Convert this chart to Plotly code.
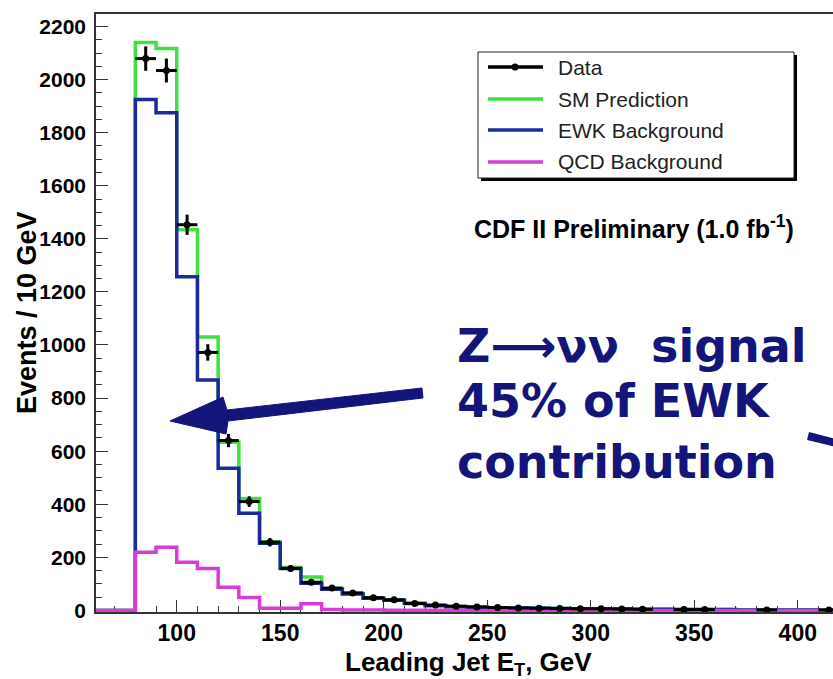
import plotly.graph_objects as go

# ── data ─────────────────────────────────────────────────────────────────────
bin_lo = list(range(60, 420, 10))          # lower bin edges, 10 GeV bins
bin_hi_last = 420
ewk_bkg = [0, 0, 1925, 1875, 1257, 868, 536, 366,
           253, 158, 102, 80, 62, 46, 38, 26,
           18, 14, 12, 10, 9, 8, 7, 6,
           5, 5, 4, 4, 3, 3, 3, 2,
           2, 2, 2, 1]
qcd_bkg = [0, 0, 219, 238, 181, 158, 87, 49,
           8, 8, 25, 3, 2, 2, 1, 1,
           1, 1, 1, 1, 1, 0, 0, 0,
           0, 0, 0, 0, 0, 0, 0, 0,
           0, 0, 0, 0]
sm_pred = [0, 0, 2140, 2117, 1434, 1030, 634, 422,
           259, 162, 126, 83, 64, 48, 39, 27,
           19, 15, 13, 10, 9, 8, 7, 6,
           5, 5, 4, 4, 3, 3, 3, 2,
           2, 2, 2, 1]
data_x = list(range(85, 420, 10))
data_y = [2079, 2034, 1453, 972, 640, 410, 257, 158,
          106, 84, 66, 48, 40, 26, 20, 16,
          13, 11, 9, 8, 7, 6, 6, 5,
          4, None, 3, 3, None, None, 2, None,
          None, 2]
data_err = [46, 45, 38, 31, 25, 20, 16, 13,
            10, 9, 8, 7, 6, 5, 4, 4,
            4, 3, 3, 3, 3, 2, 2, 2,
            2, 0, 2, 2, 0, 0, 1, 0,
            0, 1]
series_names = ["Data", "SM Prediction", "EWK Background", "QCD Background"]
x_ticks = [100, 150, 200, 250, 300, 350, 400]
y_ticks = list(range(0, 2201, 200))

GREEN, BLUE, MAGENTA, NAVY = "#3fe03f", "#1c2a9c", "#d63cd6", "#14157a"
SANS = "Liberation Sans, Arial, sans-serif"

# plot frame in pixels
W, H = 833, 679
L, T, B = 96, 14, 67
PW, PH = W - L, H - T - B


def px(x):
    return (x - L) / PW


def py(y):
    return (H - B - y) / PH


def steps(vals):
    return bin_lo + [bin_hi_last], vals + [vals[-1]]


fig = go.Figure()
for vals, col, w in [(sm_pred, GREEN, 3.5), (ewk_bkg, BLUE, 3.5), (qcd_bkg, MAGENTA, 3.5)]:
    sx, sy = steps(vals)
    fig.add_trace(go.Scatter(x=sx, y=sy, mode="lines", line_shape="hv",
                             line=dict(color=col, width=w), showlegend=False))

fig.add_trace(go.Scatter(
    x=data_x, y=data_y, mode="markers",
    marker=dict(color="black", size=7),
    error_y=dict(type="data", array=data_err, color="black", thickness=3, width=0),
    error_x=dict(type="constant", value=5, color="black", thickness=3, width=0),
    showlegend=False))

# ── hand-built ROOT style legend ─────────────────────────────────────────────
shapes = []
annos = []
shapes.append(dict(type="rect", xref="paper", yref="paper",
                   x0=px(481), x1=px(797), y0=py(181), y1=py(55),
                   fillcolor="black", line=dict(width=0)))
shapes.append(dict(type="rect", xref="paper", yref="paper",
                   x0=px(478), x1=px(794), y0=py(178), y1=py(52),
                   fillcolor="white", line=dict(color="#222", width=1)))
leg_y = [67, 99, 130, 162]
leg_col = ["black", GREEN, BLUE, MAGENTA]
for name, yy, col in zip(series_names, leg_y, leg_col):
    shapes.append(dict(type="line", xref="paper", yref="paper",
                       x0=px(488), x1=px(543), y0=py(yy), y1=py(yy),
                       line=dict(color=col, width=3.5)))
    annos.append(dict(xref="paper", yref="paper", x=px(556), y=py(yy),
                      xanchor="left", yanchor="middle", showarrow=False,
                      text=name, font=dict(family=SANS, size=21, color="#222")))
shapes.append(dict(type="circle", xref="paper", yref="paper",
                   x0=px(511.5), x1=px(518.5), y0=py(70.5), y1=py(63.5),
                   fillcolor="black", line=dict(width=0)))

annos.append(dict(xref="paper", yref="paper", x=px(472), y=py(227),
                  xanchor="left", yanchor="middle", showarrow=False,
                  text="CDF II Preliminary (1.0 fb<sup>-1</sup>)",
                  font=dict(family=SANS, size=25, color="black", weight="bold")))

# axis titles placed by hand so they sit where ROOT put them
annos.append(dict(xref="paper", yref="paper", x=px(468), y=py(663),
                  xanchor="center", yanchor="middle", showarrow=False,
                  text="Leading Jet E<sub>T</sub>, GeV",
                  font=dict(family=SANS, size=26, color="black", weight="bold")))
annos.append(dict(xref="paper", yref="paper", x=px(27), y=py(313),
                  xanchor="center", yanchor="middle", showarrow=False, textangle=-90,
                  text="Events / 10 GeV",
                  font=dict(family=SANS, size=27, color="black", weight="bold")))

# ── big annotation text + arrow ─────────────────────────────────────────────
big_lines = ["Z\u27f6\u03bd\u03bd\u00a0\u00a0signal", "45% of EWK", "contribution"]
big_mid = [346, 401, 462]
for txt, yy in zip(big_lines, big_mid):
    annos.append(dict(xref="paper", yref="paper", x=px(455), y=py(yy),
                      xanchor="left", yanchor="middle", showarrow=False, text=txt,
                      font=dict(family="DejaVu Sans", size=46, color=NAVY, weight="bold")))

arrow_pts = [(170, 421), (223, 397), (227, 410), (422, 388),
             (423, 398), (228, 421), (226, 434)]
path = "M " + " L ".join(f"{px(a):.4f},{py(b):.4f}" for a, b in arrow_pts) + " Z"
shapes.append(dict(type="path", xref="paper", yref="paper", path=path,
                   fillcolor=NAVY, line=dict(color=NAVY, width=1)))
shapes.append(dict(type="line", xref="paper", yref="paper",
                   x0=px(808), y0=py(436), x1=px(836), y1=py(443),
                   line=dict(color=NAVY, width=8)))

fig.update_layout(
    width=W, height=H,
    margin=dict(l=L, r=0, t=T, b=B, autoexpand=False),
    paper_bgcolor="white", plot_bgcolor="white",
    shapes=shapes, annotations=annos,
    font=dict(family=SANS, color="black"),
)
fig.update_xaxes(
    range=[61, 417], tickvals=x_ticks, ticks="inside", ticklen=12, tickwidth=1.2,
    tickcolor="#333", showgrid=False, zeroline=False, layer="below traces",
    showline=True, linecolor="#333", linewidth=1.5, mirror=True,
    minor=dict(dtick=10, tick0=0, ticks="inside", ticklen=6, tickcolor="#333"),
    tickfont=dict(family=SANS, size=23, weight="bold"), ticklabelstandoff=0,
)
fig.update_yaxes(
    range=[-6, 2247], tickvals=y_ticks, ticks="inside", ticklen=12, tickwidth=1.2,
    tickcolor="#333", showgrid=False, zeroline=False, layer="below traces",
    showline=True, linecolor="#333", linewidth=1.5, mirror=False,
    minor=dict(dtick=50, tick0=0, ticks="inside", ticklen=6, tickcolor="#333"),
    tickfont=dict(family=SANS, size=21, weight="bold"), ticklabelstandoff=4,
)

fig.write_html("out.html", config={"displayModeBar": False},
               post_script="document.body.style.margin='0';")
